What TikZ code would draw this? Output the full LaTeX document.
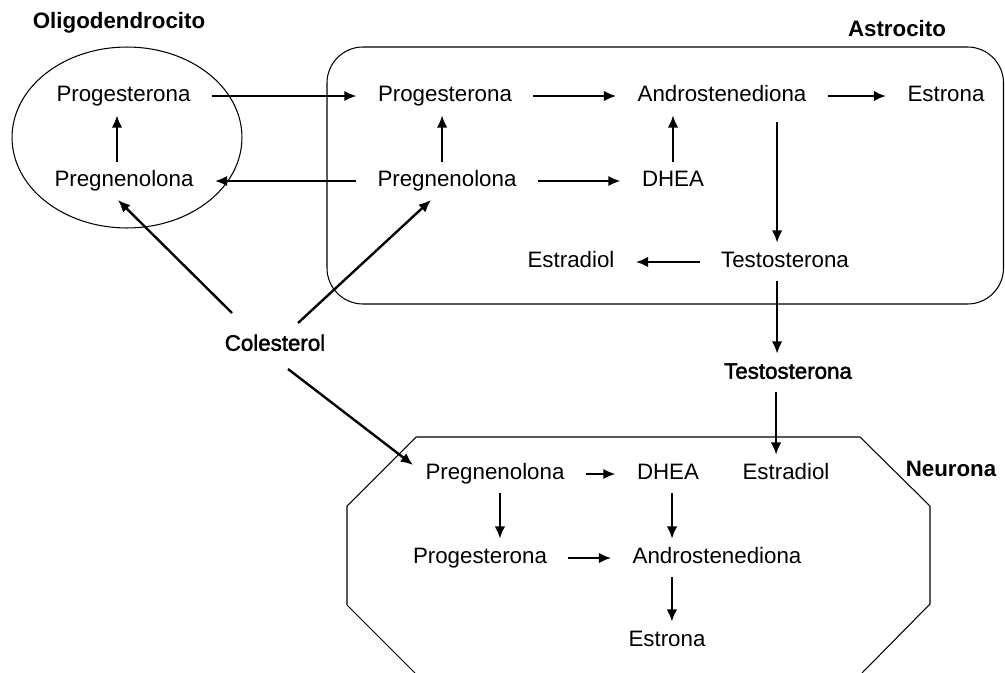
\documentclass[tikz,border=0pt]{standalone}
\usepackage{fontspec}
\setmainfont{Liberation Sans}
\newfontfamily\heavyfont[FakeBold=2]{Liberation Sans}
\usepackage{tikz}
\usetikzlibrary{positioning}
\usetikzlibrary{shapes.geometric, arrows.meta, calc}

\begin{document}
\begin{tikzpicture}[x=0.02cm,y=-0.02cm,
    hormone/.style={inner xsep=12pt,inner ysep=5pt,text height=9pt,text depth=2.5pt,font=\fontsize{12.7}{15}\selectfont},
    celltitle/.style={inner sep=0pt,font=\fontsize{12.7}{15}\selectfont\bfseries},
    heavy/.style={hormone,font=\fontsize{12.7}{15}\selectfont\heavyfont},
    react/.style={-{Latex[length=7pt,width=6pt]},line width=1.35pt},
    wall/.style={line width=0.6pt}]
    \useasboundingbox (0,0) rectangle (1005,673);

    % Oligodendrocito
    \node[draw,wall,ellipse,inner sep=0pt,minimum width=4.6cm,minimum height=3.62cm] (olig) at (127,137.5) {};
    \node[celltitle] (oTitle) at (119,23) {Oligodendrocito};
    \node[hormone] (oProg) at (123.5,96) {Progesterona};
    \node[hormone] (oPreg) at (124,181) {Pregnenolona};

    % Astrocito
    \draw[wall,rounded corners=0.72cm] (327,47) rectangle (1003.5,304);
    \node[celltitle] (aTitle) at (897,29) {Astrocito};
    \node[hormone] (aProg) at (445,96) {Progesterona};
    \node[hormone] (aAndro) at (722,96) {Androstenediona};
    \node[hormone] (aEstrona) at (946,96) {Estrona};
    \node[hormone] (aPreg) at (447,181) {Pregnenolona};
    \node[hormone] (aDHEA) at (673,181) {DHEA};
    \node[hormone] (aEstradiol) at (571,262) {Estradiol};
    \node[hormone] (aTesto) at (785,262) {Testosterona};

    % outside the cells
    \node[heavy] (col) at (275,345) {Colesterol};
    \node[heavy] (mTesto) at (788,373) {Testosterona};

    % Neurona
    \draw[wall] (415,673) -- (347,605) -- (347,506) -- (416,437) -- (860,437)
        -- (930,506) -- (930,604) -- (862,673);
    \node[celltitle] (nTitle) at (951,469) {Neurona};
    \node[hormone] (nPreg) at (495,474) {Pregnenolona};
    \node[hormone] (nDHEA) at (668,474) {DHEA};
    \node[hormone] (nEstradiol) at (786,474) {Estradiol};
    \node[hormone] (nProg) at (480,558) {Progesterona};
    \node[hormone] (nAndro) at (717,558) {Androstenediona};
    \node[hormone] (nEstrona) at (667,641) {Estrona};

    % reactions in the oligodendrocito
    \draw[react] ([xshift=-4pt]oPreg.north) -- ([xshift=-4pt]oPreg.north |- oProg.south);

    % between the cells
    \draw[react] (oProg.east) -- (aProg.west);
    \draw[react] (aPreg.west) -- (oPreg.east);

    % reactions in the astrocito
    \draw[react] (aProg.east) -- (aAndro.west);
    \draw[react] (aAndro.east) -- (aEstrona.west);
    \draw[react] (aPreg.east) -- (aDHEA.west);
    \draw[react] ([xshift=-2.8pt]aPreg.north) -- ([xshift=-2.8pt]aPreg.north |- aProg.south);
    \draw[react] (aDHEA.north) -- (aDHEA.north |- aAndro.south);
    \draw[react,shorten <=4pt] ([xshift=-4.5pt]aTesto.north |- aAndro.south) -- ([xshift=-4.5pt]aTesto.north);
    \draw[react] (aTesto.west) -- (aEstradiol.east);

    % testosterona to the neurona
    \draw[react] ([xshift=-4.5pt]aTesto.south) -- ([xshift=-4.5pt]aTesto.south |- mTesto.north);
    \draw[react] ([xshift=-6.8pt]mTesto.south) -- ([xshift=-6.8pt]mTesto.south |- nEstradiol.north);

    % colesterol
    \draw[react] ($(col)+(-43,-32)$) -- ($(oPreg)+(-6,19)$);
    \draw[react] ($(col)+(23,-22)$) -- ($(aPreg)+(-16,19)$);
    \draw[react] ($(col)+(13,24)$) -- ($(nPreg)+(-82,-9)$);

    % reactions in the neurona
    \draw[react] (nPreg.east) -- (nDHEA.west);
    \draw[react] (nProg.east) -- (nAndro.west);
    \draw[react] ([xshift=2.8pt]nPreg.south) -- ([xshift=2.8pt]nPreg.south |- nProg.north);
    \draw[react] ([xshift=2.3pt]nDHEA.south) -- ([xshift=2.3pt]nDHEA.south |- nAndro.north);
    \draw[react] ([xshift=2.8pt]nEstrona.north |- nAndro.south) -- ([xshift=2.8pt]nEstrona.north);
\end{tikzpicture}
\end{document}
